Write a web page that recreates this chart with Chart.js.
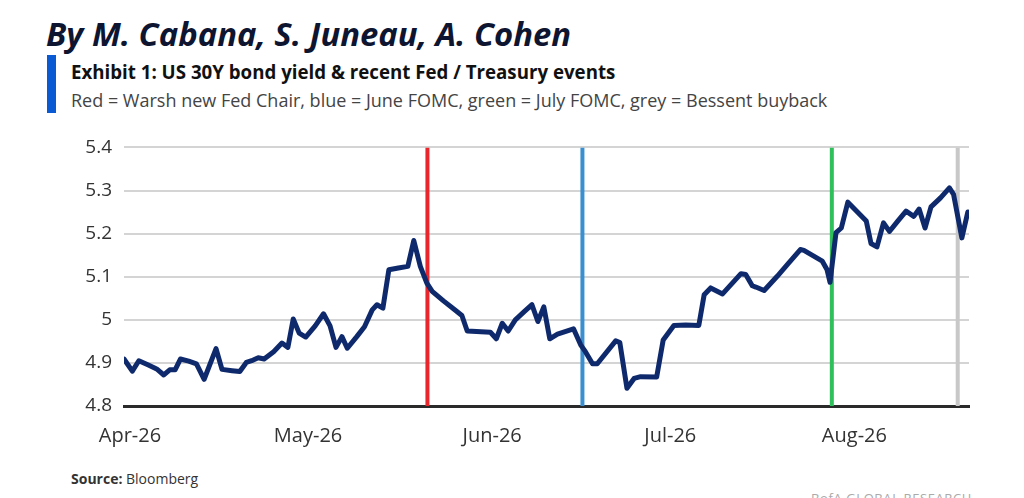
<!DOCTYPE html>
<html>
<head>
<meta charset="utf-8">
<script src="https://cdn.jsdelivr.net/npm/chart.js@4.4.1/dist/chart.umd.min.js"></script>
<style>
  html, body { margin:0; padding:0; background:#fff; width:1024px; height:498px; overflow:hidden; }
  .t { position:absolute; white-space:nowrap; font-family:"Open Sans", sans-serif; }
  #title { left:46px; top:11px; font-size:32.8px; font-weight:700; font-style:italic; color:#0d1530; }
  #bar { position:absolute; left:47px; top:55px; width:9px; height:58px; background:#0a5bd3; }
  #exh { left:71px; top:59px; font-size:18.7px; font-weight:700; color:#111; }
  #sub { left:71px; top:88px; font-size:18px; font-weight:400; color:#444; }
  #src { left:71px; top:469px; font-size:14px; color:#333; }
  #bofa { left:811px; top:489px; font-size:13px; color:#aaa; letter-spacing:0.6px; }
  #wrap { position:absolute; left:0; top:124px; width:1024px; height:336px; }
</style>
</head>
<body>
<div class="t" id="title">By M. Cabana, S. Juneau, A. Cohen</div>
<div id="bar"></div>
<div class="t" id="exh">Exhibit 1: US 30Y bond yield &amp; recent Fed / Treasury events</div>
<div class="t" id="sub">Red = Warsh new Fed Chair, blue = June FOMC, green = July FOMC, grey = Bessent buyback</div>
<div class="t" id="src"><b>Source:</b> Bloomberg</div>
<div class="t" id="bofa">BofA GLOBAL RESEARCH</div>
<div id="wrap"><canvas id="c"></canvas></div>
<script>
// Days since 1 Apr 2026
const dayOffsets = [
  -1.0, 0.4, 1.5, 3.1, 4.5, 5.7, 6.7, 7.6, 8.5, 9.9, 11.2, 12.5, 14.5, 15.5, 17.2, 18.5, 19.6, 20.5, 21.6, 22.6,
  24.2, 25.6, 26.6, 27.5, 28.5, 29.6, 31.2, 32.6, 33.7, 34.7, 35.7, 36.6, 38.2, 39.5, 40.8, 41.6, 42.6, 43.6,
  45.2, 46.8, 47.8, 48.9, 50.0, 50.9, 52.8, 54.8, 55.9, 56.8, 60.7, 61.7, 62.7, 63.7, 64.9, 66.4, 67.7, 68.7,
  69.7, 70.7, 72.0, 74.7, 75.9, 76.7, 77.9, 78.7, 81.8, 82.5, 83.7, 84.9, 86.0, 88.7, 89.8, 91.6, 93.6, 95.8,
  96.7, 97.8, 99.8, 102.9, 103.7, 104.8, 105.4, 106.8, 109.0, 110.7, 112.9, 113.5, 116.6, 117.4, 117.9, 118.9,
  119.8, 120.9, 124.0, 124.8, 125.8, 126.9, 127.9, 129.3, 130.7, 132.0, 132.9, 133.9, 134.9, 136.5, 138.0,
  138.7, 140.1, 141.1
];
// US 30Y yield, %
const yields = [
  4.909, 4.881, 4.905, 4.895, 4.886, 4.872, 4.884, 4.884, 4.909, 4.904, 4.898, 4.862, 4.933, 4.885, 4.882, 4.880, 4.901, 4.905, 4.912, 4.909,
  4.926, 4.946, 4.936, 5.002, 4.969, 4.960, 4.986, 5.014, 4.986, 4.936, 4.961, 4.934, 4.961, 4.984, 5.023, 5.035, 5.027, 5.116,
  5.120, 5.124, 5.184, 5.124, 5.085, 5.066, 5.044, 5.022, 5.010, 4.974, 4.971, 4.956, 4.992, 4.974, 5.000, 5.019, 5.035, 4.996,
  5.030, 4.956, 4.967, 4.979, 4.942, 4.926, 4.898, 4.898, 4.951, 4.947, 4.841, 4.864, 4.868, 4.867, 4.953, 4.987, 4.988, 4.987,
  5.058, 5.074, 5.060, 5.107, 5.105, 5.079, 5.076, 5.068, 5.101, 5.128, 5.163, 5.161, 5.136, 5.116, 5.087, 5.202,
  5.213, 5.273, 5.229, 5.177, 5.169, 5.225, 5.205, 5.229, 5.252, 5.240, 5.257, 5.213, 5.262, 5.283, 5.306,
  5.291, 5.190, 5.250
];
const monthTickDays = [0, 30, 61, 91, 122];
const monthLabels = ['Apr-26', 'May-26', 'Jun-26', 'Jul-26', 'Aug-26'];
const yTickValues = [4.8, 4.9, 5.0, 5.1, 5.2, 5.3, 5.4];
const yTickLabels = ['4.8', '4.9', '5', '5.1', '5.2', '5.3', '5.4'];
const eventNames = ['Warsh new Fed Chair', 'June FOMC', 'July FOMC', 'Bessent buyback'];
const eventDays = [50.1, 76.2, 118.2, 139.4];

const eventColors = ['#e8262b', '#3a8fd0', '#2fbf5b', '#c8c8c8'];
const yMin = yTickValues[0], yMax = yTickValues[yTickValues.length - 1];

const datasets = [{
  label: 'US 30Y yield',
  data: dayOffsets.map((d, i) => ({x: d, y: yields[i]})),
  borderColor: '#0f2a6c',
  borderWidth: 5,
  pointRadius: 0,
  tension: 0,
  borderJoinStyle: 'round',
  borderCapStyle: 'round',
  order: 0
}];
eventDays.forEach((d, i) => datasets.push({
  label: eventNames[i],
  data: [{x: d, y: yMin}, {x: d, y: yMax}],
  borderColor: eventColors[i],
  borderWidth: 4,
  pointRadius: 0,
  order: 1
}));

new Chart(document.getElementById('c'), {
  type: 'line',
  data: { datasets },
  options: {
    responsive: true,
    maintainAspectRatio: false,
    animation: false,
    layout: { padding: { top: 10, right: 55, left: 0, bottom: 0 } },
    plugins: { legend: { display: false }, tooltip: { enabled: false } },
    scales: {
      x: {
        type: 'linear',
        min: -1,
        max: 141.3,
        afterBuildTicks: (axis) => { axis.ticks = monthTickDays.map(v => ({ value: v })); },
        afterFit: (scale) => { scale.height = 54; },
        ticks: {
          callback: (v) => monthLabels[monthTickDays.indexOf(v)],
          font: { family: 'Open Sans', size: 20 },
          color: '#333',
          padding: 18,
          maxRotation: 0,
          autoSkip: false
        },
        grid: { display: false, drawTicks: false },
        border: { display: true, color: '#2a2a2a', width: 3 }
      },
      y: {
        type: 'linear',
        min: yMin,
        max: yMax,
        afterBuildTicks: (axis) => { axis.ticks = yTickValues.map(v => ({ value: v })); },
        afterFit: (scale) => { scale.width = 124; },
        ticks: {
          callback: (v) => yTickLabels[yTickValues.findIndex(t => Math.abs(t - v) < 1e-6)],
          font: { family: 'Open Sans', size: 19 },
          color: '#333',
          padding: 12
        },
        grid: { color: '#d4d4d4', lineWidth: 2, drawTicks: false },
        border: { display: false }
      }
    }
  }
});
</script>
</body>
</html>
